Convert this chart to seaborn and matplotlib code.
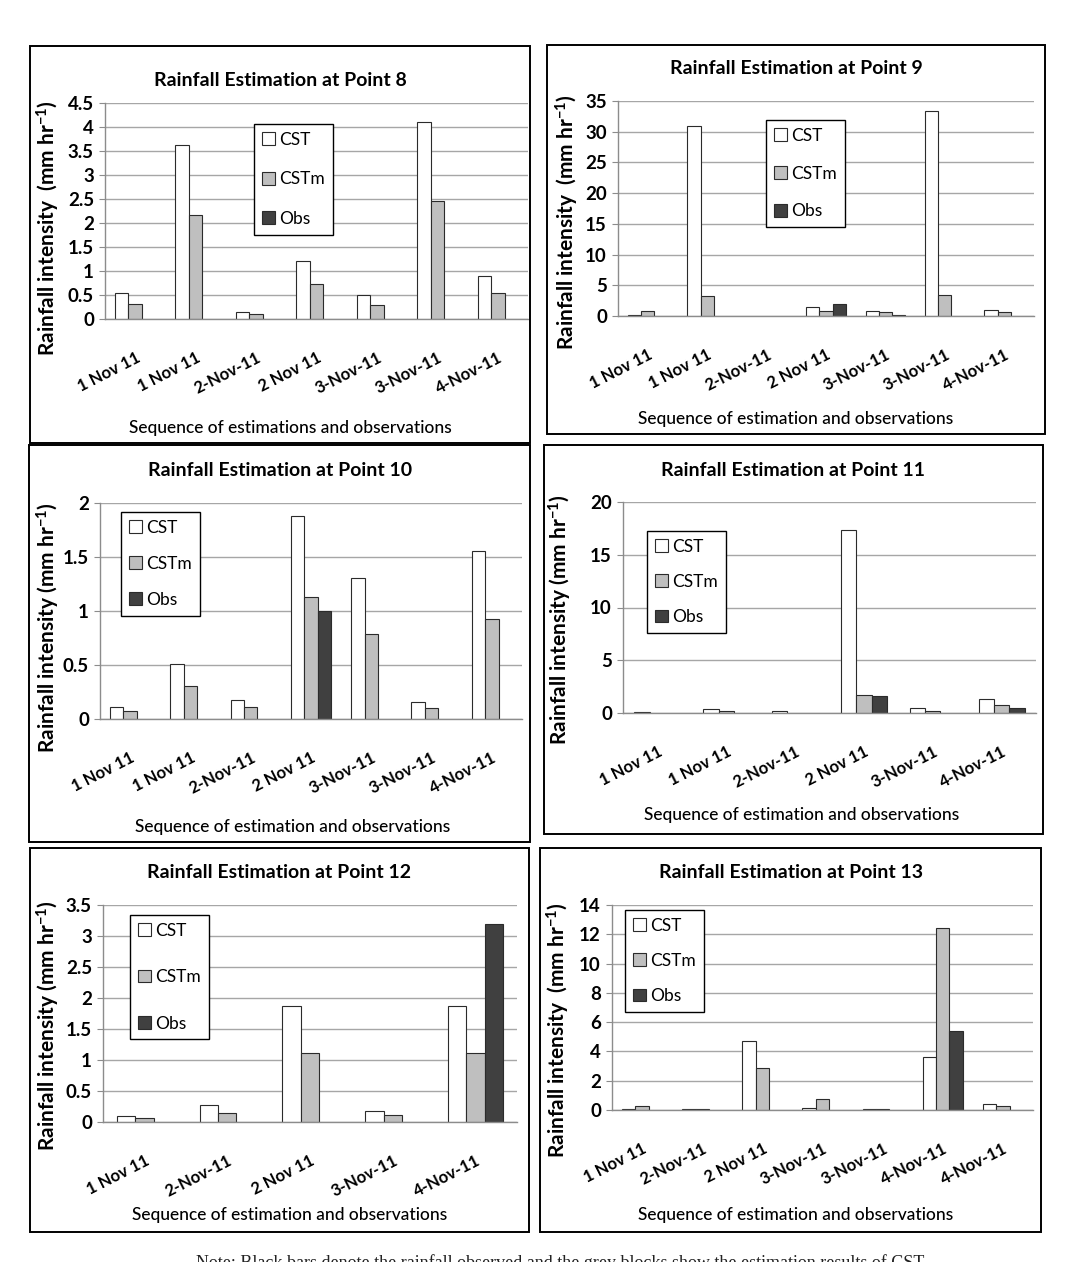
import numpy as np
import pandas as pd
import seaborn as sns
import matplotlib
matplotlib.use("Agg")
from matplotlib import pyplot as plt
from matplotlib.patches import Rectangle, Patch
from matplotlib.transforms import ScaledTranslation

series = ["CST", "CSTm", "Obs"]
bar_colors = ["#ffffff", "#bfbfbf", "#404040"]

# Point 8
p8_labels = ["1 Nov 11", "1 Nov 11", "2-Nov-11", "2 Nov 11", "3-Nov-11", "3-Nov-11", "4-Nov-11"]
p8_cst = [0.54, 3.62, 0.15, 1.21, 0.50, 4.10, 0.89]
p8_cstm = [0.32, 2.16, 0.10, 0.73, 0.30, 2.45, 0.54]
p8_obs = [0, 0, 0, 0, 0, 0, 0]

# Point 9
p9_labels = ["1 Nov 11", "1 Nov 11", "2-Nov-11", "2 Nov 11", "3-Nov-11", "3-Nov-11", "4-Nov-11"]
p9_cst = [0.15, 30.9, 0, 1.45, 0.85, 33.3, 1.05]
p9_cstm = [0.85, 3.2, 0, 0.85, 0.6, 3.4, 0.6]
p9_obs = [0, 0, 0, 2.0, 0.15, 0, 0]

# Point 10
p10_labels = ["1 Nov 11", "1 Nov 11", "2-Nov-11", "2 Nov 11", "3-Nov-11", "3-Nov-11", "4-Nov-11"]
p10_cst = [0.11, 0.51, 0.18, 1.88, 1.31, 0.16, 1.56]
p10_cstm = [0.07, 0.31, 0.11, 1.13, 0.79, 0.10, 0.93]
p10_obs = [0, 0, 0, 1.0, 0, 0, 0]

# Point 11
p11_labels = ["1 Nov 11", "1 Nov 11", "2-Nov-11", "2 Nov 11", "3-Nov-11", "4-Nov-11"]
p11_cst = [0.08, 0.35, 0.15, 17.3, 0.45, 1.35]
p11_cstm = [0, 0.15, 0, 1.75, 0.15, 0.75]
p11_obs = [0, 0, 0, 1.65, 0, 0.45]

# Point 12
p12_labels = ["1 Nov 11", "2-Nov-11", "2 Nov 11", "3-Nov-11", "4-Nov-11"]
p12_cst = [0.10, 0.27, 1.87, 0.18, 1.87]
p12_cstm = [0.06, 0.15, 1.12, 0.11, 1.12]
p12_obs = [0, 0, 0, 0, 3.2]

# Point 13
p13_labels = ["1 Nov 11", "2-Nov-11", "2 Nov 11", "3-Nov-11", "3-Nov-11", "4-Nov-11", "4-Nov-11"]
p13_cst = [0.05, 0.05, 4.7, 0.15, 0.1, 3.6, 0.4]
p13_cstm = [0.25, 0.05, 2.85, 0.75, 0.05, 12.4, 0.3]
p13_obs = [0, 0, 0, 0, 0, 5.4, 0]

W, H = 1070, 1262
plt.rcParams["font.family"] = ["Lato", "DejaVu Sans"]
plt.rcParams["mathtext.default"] = "regular"

fig = plt.figure(figsize=(W / 100, H / 100), dpi=100)
fig.patch.set_facecolor("white")


def fx(px):
    return px / W


def fy(py):
    return 1 - py / H


def draw_panel(labels, cst, cstm, obs, title, xlabel, ylabel, ymax, ystep,
               box, axbox, title_xy, xlabel_xy, ylabel_xy, leg_xy, leg_space):
    # panel frame
    x0, y0, x1, y1 = box
    fig.patches.append(Rectangle((fx(x0), fy(y1)), fx(x1 - x0), (y1 - y0) / H,
                                 transform=fig.transFigure, fill=False,
                                 edgecolor="black", lw=1.4))
    ax0, ay0, ax1, ay1 = axbox
    ax = fig.add_axes([fx(ax0), fy(ay1), fx(ax1 - ax0), (ay1 - ay0) / H])

    rows = []
    for s, vals in zip(series, [cst, cstm, obs]):
        for i, v in enumerate(vals):
            if v > 0:
                rows.append({"pos": i, "series": s, "value": v})
    df = pd.DataFrame(rows)
    n = len(labels)
    sns.barplot(data=df, x="pos", y="value", hue="series", order=list(range(n)),
                hue_order=series, palette=dict(zip(series, bar_colors)),
                width=0.667, gap=0, edgecolor="#2b2b2b", linewidth=0.8,
                errorbar=None, legend=False, ax=ax)

    ax.set_xlim(-0.5, n - 0.5)
    ax.set_ylim(0, ymax)
    yt = np.arange(0, ymax + ystep / 2, ystep)
    ax.set_yticks(yt)
    ax.set_yticklabels([f"{t:g}" for t in yt], fontsize=13.5, fontweight="bold")
    ax.set_xticks(range(n))
    ax.set_xticklabels(labels, rotation=27, ha="right", rotation_mode="anchor",
                       fontsize=12, fontweight="bold")
    for lab in ax.get_xticklabels():
        lab.set_transform(lab.get_transform() + ScaledTranslation(0.06, 0, fig.dpi_scale_trans))
    ax.tick_params(axis="x", length=0, pad=22)
    ax.tick_params(axis="y", length=4, color="#8c8c8c", pad=4)
    ax.yaxis.grid(True, color="#a6a6a6", lw=1)
    ax.set_axisbelow(True)
    for side in ["top", "right"]:
        ax.spines[side].set_visible(False)
    for side in ["left", "bottom"]:
        ax.spines[side].set_color("#8c8c8c")
        ax.spines[side].set_linewidth(1)

    ax.set_xlabel(xlabel, fontsize=12.5, fontweight="medium")
    ax.xaxis.set_label_coords(fx(xlabel_xy[0]), fy(xlabel_xy[1]), transform=fig.transFigure)
    ax.xaxis.label.set_va("center")
    ax.set_ylabel(ylabel, fontsize=15, fontweight="bold")
    ax.yaxis.set_label_coords(fx(ylabel_xy[0]), fy(ylabel_xy[1]), transform=fig.transFigure)
    ax.yaxis.label.set_va("center")
    fig.text(fx(title_xy[0]), fy(title_xy[1]), title, ha="center", va="center",
             fontsize=14, fontweight="bold")

    handles = [Patch(facecolor=c, edgecolor="#2b2b2b", lw=0.8, label=s)
               for s, c in zip(series, bar_colors)]
    leg = ax.legend(handles=handles, loc="upper left",
                    bbox_to_anchor=(fx(leg_xy[0]), fy(leg_xy[1])),
                    bbox_transform=fig.transFigure, borderaxespad=0,
                    frameon=True, fancybox=False, framealpha=1,
                    handlelength=0.75, handleheight=0.75, handletextpad=0.25,
                    labelspacing=leg_space, borderpad=0.45, fontsize=12.5)
    leg.get_frame().set_edgecolor("black")
    leg.get_frame().set_linewidth(1)
    return ax


ylab2 = "Rainfall intensity  (mm hr$^{-1}$)"
ylab1 = "Rainfall intensity (mm hr$^{-1}$)"
xlab_a = "Sequence of estimations and observations"
xlab_b = "Sequence of estimation and observations"

draw_panel(p8_labels, p8_cst, p8_cstm, p8_obs, "Rainfall Estimation at Point 8", xlab_a, ylab2,
           4.5, 0.5, (30, 46, 530, 443), (105, 103, 528, 319),
           (280, 80), (290, 428), (48, 228), (254, 124), 1.35)
draw_panel(p9_labels, p9_cst, p9_cstm, p9_obs, "Rainfall Estimation at Point 9", xlab_b, ylab2,
           35, 5, (547, 45, 1045, 434), (618, 101, 1034, 316),
           (796, 68), (796, 419), (567, 222), (766, 120), 1.25)
draw_panel(p10_labels, p10_cst, p10_cstm, p10_obs, "Rainfall Estimation at Point 10", xlab_b, ylab1,
           2, 0.5, (29, 445, 530, 842), (100, 503, 522, 719),
           (280, 470), (293, 827), (48, 628), (121, 512), 1.15)
draw_panel(p11_labels, p11_cst, p11_cstm, p11_obs, "Rainfall Estimation at Point 11", xlab_b, ylab1,
           20, 5, (544, 445, 1043, 834), (623, 502, 1036, 713),
           (793, 470), (802, 815), (560, 620), (647, 531), 1.1)
draw_panel(p12_labels, p12_cst, p12_cstm, p12_obs, "Rainfall Estimation at Point 12", xlab_b, ylab1,
           3.5, 0.5, (30, 848, 529, 1232), (103, 905, 517, 1122),
           (279, 873), (290, 1215), (48, 1026), (130, 915), 1.75)
draw_panel(p13_labels, p13_cst, p13_cstm, p13_obs, "Rainfall Estimation at Point 13", xlab_b, ylab2,
           14, 2, (540, 848, 1041, 1232), (612, 905, 1033, 1110),
           (791, 873), (796, 1215), (558, 1030), (625, 910), 1.1)

fig.text(fx(560), fy(1254), "Note: Black bars denote the rainfall observed and the grey blocks show the estimation results of CST",
         ha="center", va="top", fontsize=13, family=["Liberation Serif", "DejaVu Serif"], color="#222222")

fig.savefig("out.png", dpi=100)
